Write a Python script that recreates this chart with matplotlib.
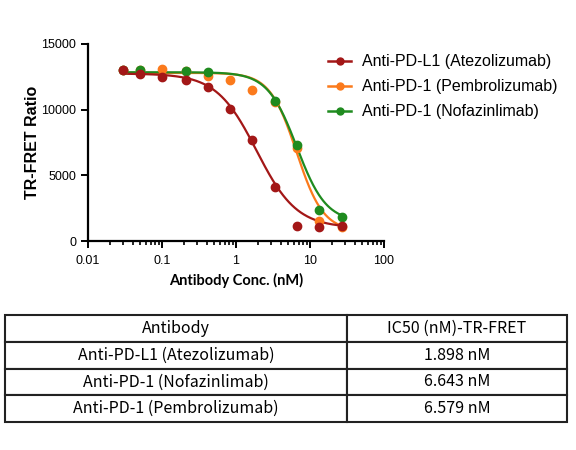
import numpy as np
import matplotlib
matplotlib.use("Agg")
import matplotlib.pyplot as plt

# concentrations (nM) and TR-FRET ratio
conc = np.array([0.03, 0.05, 0.1, 0.21, 0.42, 0.83, 1.67, 3.33, 6.67, 13.3, 26.7])
atezo = np.array([13020, 12720, 12470, 12260, 11700, 10030, 7690, 4130, 1140, 1090, 1170])
pembro = np.array([13000, 13000, 13100, 12950, 12580, 12260, 11500, 10560, 7080, 1550, 1100])
nofaz = np.array([13000, 13020, np.nan, 12970, 12840, np.nan, np.nan, 10690, 7310, 2360, 1860])

# 4PL fit parameters (top, bottom, IC50, hill)
fit_atezo = (12750, 1000, 1.898, 1.6)
fit_pembro = (12800, 750, 6.579, 2.4)
fit_nofaz = (12850, 1450, 6.643, 2.2)

labels = ["Anti-PD-L1 (Atezolizumab)", "Anti-PD-1 (Pembrolizumab)", "Anti-PD-1 (Nofazinlimab)"]
colors = ["#a31717", "#fb7a1c", "#1f8b1f"]

table_header = ["Antibody", "IC50 (nM)-TR-FRET"]
table_names = ["Anti-PD-L1 (Atezolizumab)", "Anti-PD-1 (Nofazinlimab)", "Anti-PD-1 (Pembrolizumab)"]
table_ic50 = ["1.898 nM", "6.643 nM", "6.579 nM"]


def four_pl(x, top, bottom, ic50, hill):
    return bottom + (top - bottom) / (1 + (x / ic50) ** hill)


fig = plt.figure(figsize=(5.76, 4.5), dpi=100)
ax = fig.add_axes([88 / 576, 1 - 241 / 450, 296 / 576, 197 / 450])

xs = np.logspace(np.log10(conc[0]), np.log10(conc[-1]), 300)
series = [(atezo, fit_atezo, 6), (pembro, fit_pembro, 4), (nofaz, fit_nofaz, 5)]
handles = []
for (ys, p, z), lab, c in zip(series, labels, colors):
    ax.plot(xs, four_pl(xs, *p), color=c, lw=1.6, zorder=z - 3)
    ax.plot(conc, ys, "o", color=c, ms=6, zorder=z)
    h, = ax.plot([], [], "-o", color=c, lw=1.8, ms=5, label=lab)
    handles.append(h)

ax.set_xscale("log")
ax.set_xlim(0.01, 100)
ax.set_ylim(0, 15000)
ax.set_xticks([0.01, 0.1, 1, 10, 100])
ax.set_xticklabels(["0.01", "0.1", "1", "10", "100"])
ax.set_yticks([0, 5000, 10000, 15000])
ax.set_yticklabels(["0", "5000", "10000", "15000"])
for s in ["top", "right"]:
    ax.spines[s].set_visible(False)
for s in ["left", "bottom"]:
    ax.spines[s].set_linewidth(1.6)
ax.tick_params(which="major", length=5, width=1.4, labelsize=9, direction="out")
ax.tick_params(which="minor", length=3, width=1.2, direction="out")
ax.tick_params(axis="x", pad=5)
for t in ax.get_xticklabels() + ax.get_yticklabels():
    t.set_family("Liberation Sans")

ax.set_ylabel("TR-FRET Ratio", fontsize=11.5, fontweight="bold", family="Liberation Sans", labelpad=1)
ax.set_xlabel("Antibody Conc. (nM)", fontsize=10.5, fontweight="bold", family="Lato", labelpad=4)

fig.legend(handles=handles, loc="upper left", bbox_to_anchor=(314 / 576, 1 - 40 / 450),
           frameon=False, prop={"family": "Liberation Sans", "size": 11.5},
           handlelength=1.4, labelspacing=0.62, handletextpad=0.7)

# IC50 table
tax = fig.add_axes([5 / 576, 1 - 422 / 450, 562 / 576, 107 / 450])
tax.axis("off")
rows = [[n, v] for n, v in zip(table_names, table_ic50)]
tbl = tax.table(cellText=rows, colLabels=table_header, cellLoc="center",
                colWidths=[342 / 562, 220 / 562], bbox=[0, 0, 1, 1])
tbl.auto_set_font_size(False)
for cell in tbl.get_celld().values():
    cell.set_linewidth(1.5)
    cell.set_edgecolor("#222222")
    cell.get_text().set_fontsize(11.5)
    cell.get_text().set_family(["Noto Sans CJK SC", "DejaVu Sans"])

fig.savefig("out.png", dpi=100)
